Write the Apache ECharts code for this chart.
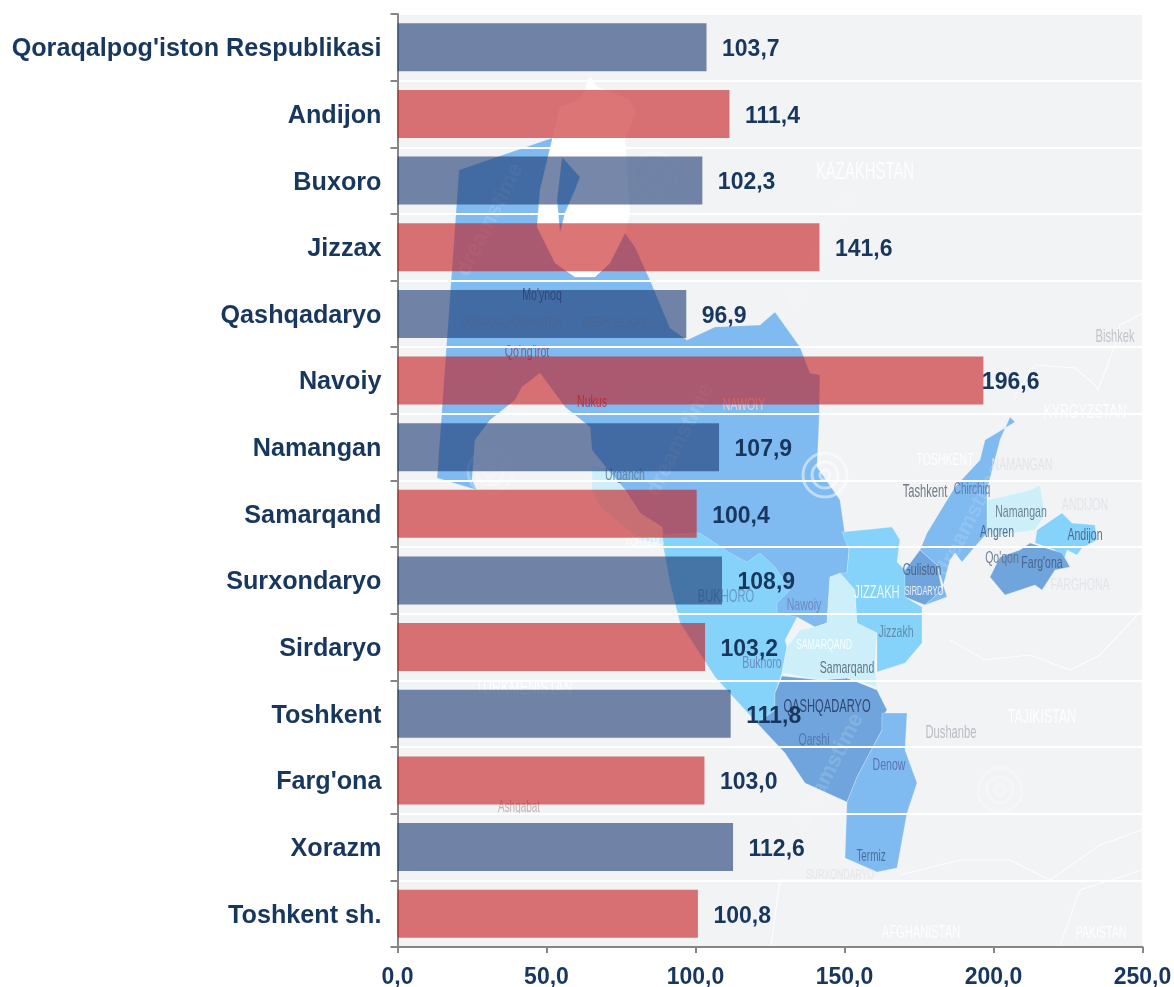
<!DOCTYPE html>
<html>
<head>
<meta charset="utf-8">
<script src="https://cdn.jsdelivr.net/npm/echarts@6/dist/echarts.min.js"></script>
<style>html,body{margin:0;padding:0;background:#fff}#c{width:1174px;height:987px}</style>
</head>
<body>
<div id="c"></div>
<script>
var categories = ["Qoraqalpog'iston Respublikasi","Andijon","Buxoro","Jizzax","Qashqadaryo","Navoiy","Namangan","Samarqand","Surxondaryo","Sirdaryo","Toshkent","Farg'ona","Xorazm","Toshkent sh."];
var values = [103.7,111.4,102.3,141.6,96.9,196.6,107.9,100.4,108.9,103.2,111.8,103.0,112.6,100.8];
var tickValues = [0,50,100,150,200,250];

var FONT = '"Liberation Sans", Arial, sans-serif';
var NAVY = '#17375e';
var BLUE = 'rgba(27,55,112,0.6)';
var RED = 'rgba(197,25,27,0.6)';
var C_MAIN = '#7fbaf0', C_LIGHT = '#85d3fb', C_PALE = '#cdeffa', C_DARK = '#6fa5dc';

// Background map artwork (decoration behind the chart)
var mapShapes = [
 [C_MAIN,[[459,170],[552,138],[575,180],[625,233],[635,247],[650,280],[670,328],[687,340],[715,327],[760,325],[775,312],[790,333],[800,347],[810,373],[820,375],[819,423],[817,467],[840,500],[845,535],[849,550],[847,573],[830,577],[827,623],[815,627],[797,617],[785,640],[765,637],[720,600],[670,583],[662,540],[640,513],[625,490],[608,470],[592,450],[590,427],[565,407],[540,373],[522,387],[515,400],[490,420],[475,440],[472,480],[477,490],[437,478]]],
 [C_PALE,[[592,465],[608,470],[625,490],[640,513],[662,527],[665,545],[640,540],[600,507],[592,490]]],
 [C_LIGHT,[[662,535],[700,533],[730,553],[747,562],[760,553],[775,567],[790,590],[777,603],[777,613],[797,617],[785,640],[787,647],[782,673],[775,693],[775,710],[757,723],[715,677],[680,623],[670,583]]],
 [C_DARK,[[775,693],[782,676],[820,680],[847,678],[877,690],[887,710],[882,717],[882,730],[857,777],[847,802],[805,783],[785,753],[757,723],[775,710]]],
 [C_MAIN,[[882,713],[907,713],[905,750],[917,783],[907,813],[897,868],[877,872],[845,858],[847,802],[857,777],[882,730]]],
 [C_PALE,[[787,647],[800,630],[815,627],[827,623],[830,577],[840,573],[855,590],[857,623],[877,633],[875,663],[877,687],[847,678],[820,680],[782,673]]],
 [C_LIGHT,[[842,532],[892,527],[900,540],[897,562],[905,570],[905,597],[922,607],[922,643],[905,663],[877,672],[877,633],[857,623],[855,590],[840,573],[847,573],[849,550]]],
 [C_DARK,[[920,550],[937,565],[942,590],[925,605],[905,597],[905,570]]],
 [C_MAIN,[[1010,417],[1015,422],[985,440],[980,460],[955,487],[927,533],[920,550],[937,565],[947,597],[925,605],[942,590],[950,560],[955,553],[962,562],[972,550],[987,533],[987,490],[1000,440]]],
 [C_PALE,[[988,500],[1030,490],[1040,485],[1045,515],[1035,530],[1000,535],[987,533]]],
 [C_LIGHT,[[1037,530],[1062,513],[1072,523],[1095,525],[1097,540],[1082,548],[1077,555],[1067,550],[1062,567],[1055,550],[1035,543]]],
 [C_DARK,[[990,577],[1000,557],[1020,550],[1030,543],[1062,553],[1070,567],[1055,570],[1042,590],[1035,585],[1005,595]]],
 ['#ffffff',[[590,77],[597,87],[630,100],[635,113],[625,140],[630,213],[625,233],[610,263],[595,277],[575,277],[555,263],[537,227],[540,190],[552,140],[560,107],[580,100]]],
 [C_MAIN,[[562,157],[580,177],[575,190],[565,213],[560,233],[557,200]]]
];
var mapLabels = [
 ['KAZAKHSTAN',865,172,24,'#ffffff'],['Bishkek',1115,337,18,'#b9bcc2'],['KYRGYZSTAN',1085,412,20,'#ffffff'],
 ['NAWOIY',744,405,17,'#f3d9d0'],["Mo'ynoq",542,295,17,'#3a4c7c'],['QORAQALPOGHISTON',512,323,15,'#8ea6c4'],
 ['RESPUBLIKASI',616,323,15,'#8ea6c4'],["Qo'ng'irot",527,352,17,'#8a4a68'],['Nukus',592,402,17,'#a83a48'],
 ['Urganch',625,475,17,'#5d7a96'],['TOSHKENT',945,460,17,'#ffffff'],['NAMANGAN',1022,465,17,'#dfe3e8'],
 ['Tashkent',925,492,18,'#5c6470'],['Chirchiq',972,490,16,'#5c6f95'],['Namangan',1021,512,17,'#5c6f80'],
 ['ANDIJON',1085,505,17,'#dfe3e8'],['Angren',997,532,17,'#41597f'],['Andijon',1085,535,17,'#41597f'],
 ["Qo'qon",1002,558,17,'#5c6f80'],["Farg'ona",1042,563,17,'#41597f'],['FARGHONA',1080,585,17,'#dfe3e8'],
 ['Guliston',922,570,17,'#41597f'],['SIRDARYO',924,592,12,'#ffffff'],['JIZZAKH',877,593,18,'#ffffff'],
 ['Jizzakh',896,632,17,'#5c7fa0'],['BUKHORO',726,597,18,'#5f8fbf'],['Nawoiy',804,605,17,'#6a7fb8'],
 ['SAMARQAND',824,645,14,'#ffffff'],['Samarqand',847,668,17,'#4f5f70'],['Bukhoro',762,663,17,'#6a7fb0'],
 ['TURKMENISTAN',524,688,20,'#ffffff'],['QASHQADARYO',827,707,18,'#22355f'],['Qarshi',814,740,17,'#4b6fa8'],
 ['TAJIKISTAN',1042,717,20,'#ffffff'],['Dushanbe',951,733,18,'#b0b4ba'],['Denow',889,765,17,'#5566a8'],
 ['Ashgabat',519,808,16,'#b8a8aa'],['Termiz',871,857,16,'#45608f'],['SURXONDARYO',840,875,14,'#e2e4e8'],
 ['AFGHANISTAN',921,933,18,'#ffffff'],['PAKISTAN',1101,933,17,'#ffffff'],['XORAZM',642,542,13,'#ffffff']
];
var marks = [['dreamstime',680,440],['dreamstime',970,520],['dreamstime',830,770],['dreamstime',490,220],['dreamstime',820,250]];
var swirls = [[825,475,0.5],[490,472,0.25],[655,175,0.25],[1000,790,0.3]];
var borders = [
 [[1115,345],[1120,325],[1145,312]],[[1015,395],[1035,365],[1075,368],[1095,385],[1098,390],[1115,345]],
 [[950,640],[985,660],[1030,655],[1070,670],[1100,655],[1142,610]],[[900,875],[960,860],[1010,860],[1050,880],[1100,845],[1142,830]],
 [[771,945],[780,880],[840,880]],[[1060,945],[1080,890],[1142,870]]
];

var elements = [{type:'rect',z:-100,shape:{x:397,y:15,width:745,height:932},style:{fill:'#f1f3f5'},silent:true}];
borders.forEach(function(b){elements.push({type:'polyline',z:-99,silent:true,shape:{points:b},style:{fill:null,stroke:'rgba(255,255,255,0.8)',lineWidth:1.2}});});
mapShapes.forEach(function(s){elements.push({type:'polygon',z:-98,silent:true,shape:{points:s[1]},style:{fill:s[0],stroke:'rgba(255,255,255,0.3)',lineWidth:0.8}});});
swirls.forEach(function(p){[22,13,5].forEach(function(r){elements.push({type:'circle',z:-97,silent:true,shape:{cx:p[0],cy:p[1],r:r},style:{fill:null,stroke:'rgba(255,255,255,'+p[2]+')',lineWidth:3}});});});
marks.forEach(function(m){elements.push({type:'text',z:-97,silent:true,x:m[1],y:m[2],rotation:1.1,style:{text:m[0],fill:'rgba(255,255,255,0.14)',font:'bold 22px '+FONT,textAlign:'center',textVerticalAlign:'middle'}});});
mapLabels.forEach(function(l){elements.push({type:'text',z:-96,silent:true,x:l[1],y:l[2],scaleX:0.62,style:{text:l[0],fill:l[4],font:l[3]+'px '+FONT,textAlign:'center',textVerticalAlign:'middle',opacity:0.85}});});

var chart = echarts.init(document.getElementById('c'),null,{renderer:'canvas'});
chart.setOption({
  animation:false,
  backgroundColor:'#ffffff',
  graphic:{z:-1,elements:elements},
  grid:{left:397.5,top:14,width:745,height:933,containLabel:false,outerBoundsMode:'none'},
  xAxis:{type:'value',min:0,max:250,interval:50,
    axisLine:{show:true,lineStyle:{color:'#868686',width:2}},
    axisTick:{show:true,length:6,lineStyle:{color:'#868686',width:2}},
    splitLine:{show:false},
    axisLabel:{margin:19,fontFamily:FONT,fontWeight:'bold',fontSize:23,color:NAVY,
      formatter:function(v){return tickValues.indexOf(v)>=0?v.toFixed(1).replace('.',','):'';}}},
  yAxis:{type:'category',inverse:true,data:categories,
    axisLine:{show:true,lineStyle:{color:'#868686',width:2}},
    axisTick:{show:true,length:7,lineStyle:{color:'#868686',width:2}},
    splitLine:{show:true,lineStyle:{color:'#ffffff',width:2}},
    axisLabel:{margin:16,formatter:function(v){return '{a|'+v+'}';},
      rich:{a:{fontFamily:FONT,fontWeight:'bold',fontSize:25.2,color:NAVY,padding:[4,0,0,0]}}}},
  series:[{type:'bar',barWidth:48,z:3,
    data:values.map(function(v,i){
      return {value:v,itemStyle:{color:i%2===0?BLUE:RED},
        label:{offset:[v>190?-6.5:10.5,2.5]}};
    }),
    label:{show:true,position:'right',fontFamily:FONT,fontWeight:'bold',fontSize:23,color:NAVY,
      formatter:function(p){return p.value.toFixed(1).replace('.',',');}}
  }]
});
</script>
</body>
</html>
